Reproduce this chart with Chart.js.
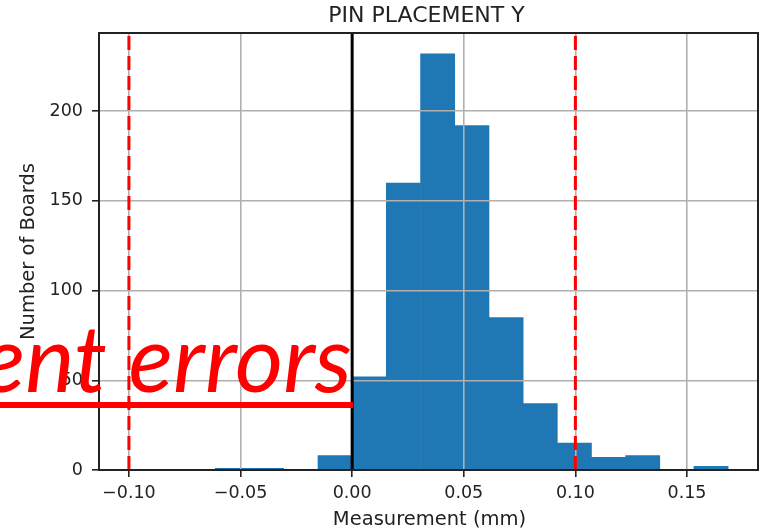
<!DOCTYPE html>
<html>
<head>
<meta charset="utf-8">
<script src="https://cdn.jsdelivr.net/npm/chart.js@4.4.1/dist/chart.umd.min.js"></script>
<style>
  html, body { margin: 0; padding: 0; background: #fff; }
  #wrap { width: 768px; height: 529px; }
</style>
</head>
<body>
<div id="wrap"><canvas id="histChart" width="768" height="529"></canvas></div>
<script>
// histogram bins (mm) and board counts
const binEdges = [-0.0613, -0.0460, -0.0307, -0.0153, 0.0000, 0.0153, 0.0306, 0.0460,
                  0.0613, 0.0766, 0.0919, 0.1072, 0.1225, 0.1378, 0.1531, 0.1684];
const boardCounts = [1, 1, 0, 8, 52, 160, 232, 192, 85, 37, 15, 7, 8, 0, 2];
const xTickValues = [-0.10, -0.05, 0.00, 0.05, 0.10, 0.15];
const yTickValues = [0, 50, 100, 150, 200];
const limitLines = [-0.10, 0.10];   // red dashed tolerance limits
const nominalLine = 0.0;            // black nominal line
const xLimits = [-0.1134, 0.1818];
const yLimits = [0, 243.6];

const titleText = "PIN PLACEMENT Y";
const xTitle = "Measurement (mm)";
const yTitle = "Number of Boards";
const overlayText = "ent errors";

const TEXT = '#222';
const FONT = '"DejaVu Sans", sans-serif';

const histData = boardCounts.map((c, i) => ({
    x: (binEdges[i] + binEdges[i + 1]) / 2,
    y: c
}));

function fmtTick(v) {
    return (v < 0 ? '\u2212' : '') + Math.abs(v).toFixed(2);
}

const decorPlugin = {
    id: 'decor',
    afterDraw(chart) {
        const { ctx, chartArea: { left, right, top, bottom }, scales: { x } } = chart;
        ctx.save();

        // nominal line
        ctx.strokeStyle = '#000';
        ctx.lineWidth = 3;
        const zx = x.getPixelForValue(nominalLine);
        ctx.beginPath();
        ctx.moveTo(zx, bottom);
        ctx.lineTo(zx, top);
        ctx.stroke();

        // limit lines, dashes start at the bottom like matplotlib
        ctx.strokeStyle = '#ff0000';
        ctx.lineWidth = 3;
        ctx.setLineDash([14, 6]);
        limitLines.forEach(v => {
            const px = x.getPixelForValue(v);
            ctx.beginPath();
            ctx.moveTo(px, bottom);
            ctx.lineTo(px, top);
            ctx.stroke();
        });
        ctx.setLineDash([]);

        // frame
        ctx.strokeStyle = '#222';
        ctx.lineWidth = 2;
        ctx.strokeRect(left, top, right - left, bottom - top);

        // titles
        ctx.fillStyle = TEXT;
        ctx.textAlign = 'center';
        ctx.textBaseline = 'alphabetic';
        ctx.font = '22px ' + FONT;
        ctx.fillText(titleText, (left + right) / 2 - 2, 22);
        ctx.font = '19.5px ' + FONT;
        ctx.fillText(xTitle, (left + right) / 2 + 1, 525);
        ctx.save();
        ctx.translate(34, (top + bottom) / 2);
        ctx.rotate(-Math.PI / 2);
        ctx.fillText(yTitle, 0, 0);
        ctx.restore();

        // red italic slide text lying over the chart
        ctx.fillStyle = '#ff0000';
        ctx.font = 'italic 93px Lato, "Open Sans", sans-serif';
        ctx.textAlign = 'right';
        ctx.fillText(overlayText, 352, 392);
        ctx.fillRect(0, 402, 353, 6);

        ctx.restore();
    }
};

new Chart(document.getElementById('histChart'), {
    type: 'bar',
    data: {
        datasets: [{
            label: 'Boards',
            data: histData,
            backgroundColor: '#1f77b4',
            borderWidth: 0,
            barPercentage: 1,
            categoryPercentage: 1,
            grouped: false
        }]
    },
    options: {
        responsive: false,
        animation: false,
        devicePixelRatio: 1,
        layout: { padding: { left: 0, right: 10, top: 33, bottom: 0 } },
        plugins: {
            legend: { display: false },
            tooltip: { enabled: false }
        },
        scales: {
            x: {
                type: 'linear',
                min: xLimits[0],
                max: xLimits[1],
                offset: false,
                afterBuildTicks: (s) => { s.ticks = xTickValues.map(v => ({ value: v })); },
                afterFit: (s) => { s.height = 59; },
                grid: {
                    z: 1,
                    color: '#b0b0b0',
                    lineWidth: 1.6,
                    tickColor: '#222',
                    tickLength: 7,
                    tickWidth: 1.6,
                    offset: false
                },
                border: { display: false },
                ticks: {
                    color: TEXT,
                    font: { family: FONT, size: 17.5 },
                    padding: 6,
                    maxRotation: 0,
                    autoSkip: false,
                    callback: (v) => fmtTick(v)
                }
            },
            y: {
                min: yLimits[0],
                max: yLimits[1],
                afterBuildTicks: (s) => { s.ticks = yTickValues.map(v => ({ value: v })); },
                afterFit: (s) => { s.width = 99; },
                grid: {
                    z: 1,
                    color: '#b0b0b0',
                    lineWidth: 1.6,
                    tickColor: '#222',
                    tickLength: 7,
                    tickWidth: 1.6
                },
                border: { display: false },
                ticks: {
                    color: TEXT,
                    font: { family: FONT, size: 17.5 },
                    padding: 9,
                    autoSkip: false
                }
            }
        }
    },
    plugins: [decorPlugin]
});
</script>
</body>
</html>
